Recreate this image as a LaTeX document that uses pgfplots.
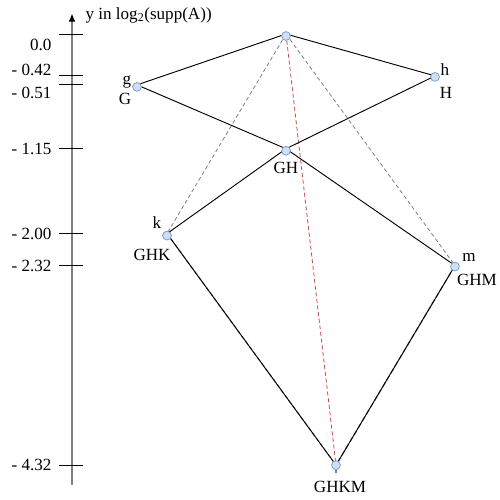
\documentclass[border=0pt]{standalone}
\usepackage{fontspec}
\setmainfont{Liberation Serif}
\usepackage{pgfplots}
\pgfplotsset{compat=1.18}
\usetikzlibrary{arrows.meta}
\definecolor{nodefill}{HTML}{CFE0F6}
\definecolor{nodedraw}{HTML}{7C9ED4}
\definecolor{dgray}{HTML}{808080}
\definecolor{dred}{HTML}{C84A48}
\tikzset{lbl/.style={font=\fontsize{12.8}{15}\selectfont, inner sep=1pt}}
\begin{document}
\begin{tikzpicture}
\begin{axis}[at={(0,0)},anchor=south west, scale only axis, width=375pt, height=375pt,
  xmin=0, xmax=500, ymin=-4.6693, ymax=0.3407, hide axis, clip=false]
% vertical scale
\addplot[draw=dgray, line width=0.8pt, -{Latex[black,length=6pt,width=5pt]}] coordinates {(72,-4.519) (72,0.205)};
\addplot[black, line width=0.7pt] coordinates {(59,0) (83,0)};
\addplot[black, line width=0.7pt] coordinates {(59,-0.42) (83,-0.42)};
\addplot[black, line width=0.7pt] coordinates {(59,-0.51) (83,-0.51)};
\addplot[black, line width=0.7pt] coordinates {(59,-1.15) (83,-1.15)};
\addplot[black, line width=0.7pt] coordinates {(59,-2.00) (83,-2.00)};
\addplot[black, line width=0.7pt] coordinates {(59,-2.32) (83,-2.32)};
\addplot[black, line width=0.7pt] coordinates {(59,-4.32) (83,-4.32)};
\node[lbl,anchor=east] at (axis cs:53,-0.110) {0.0};
\node[lbl,anchor=east] at (axis cs:53,-0.361) {- 0.42};
\node[lbl,anchor=east] at (axis cs:53,-0.591) {- 0.51};
\node[lbl,anchor=east] at (axis cs:53,-1.15) {- 1.15};
\node[lbl,anchor=east] at (axis cs:53,-2.00) {- 2.00};
\node[lbl,anchor=east] at (axis cs:53,-2.32) {- 2.32};
\node[lbl,anchor=east] at (axis cs:53,-4.32) {- 4.32};
\node[lbl,anchor=west] at (axis cs:84,0.19) {y in log\textsubscript{2}(supp(A))};
% dashed edges
\addplot[dgray, line width=0.6pt, dash pattern=on 3pt off 2pt] coordinates {(286,0) (167,-2.00)};
\addplot[dgray, line width=0.6pt, dash pattern=on 3pt off 2pt] coordinates {(286,0) (455,-2.32)};
\addplot[dgray, line width=0.9pt, dash pattern=on 3pt off 2pt] coordinates {(167,-2.00) (336,-4.32)};
\addplot[dgray, line width=1.0pt, dash pattern=on 4pt off 2pt] coordinates {(455,-2.32) (336,-4.32)};
\addplot[dgray, line width=0.8pt] coordinates {(336,-4.32) (336,-4.40)};
\addplot[dred, line width=0.6pt, dash pattern=on 3pt off 2pt] coordinates {(286,0) (336,-4.32)};
% solid edges
\addplot[black, line width=0.7pt] coordinates {(286,0) (137,-0.51)};
\addplot[black, line width=0.7pt] coordinates {(286,0) (435,-0.42)};
\addplot[black, line width=0.7pt] coordinates {(137,-0.51) (286,-1.15)};
\addplot[black, line width=0.7pt] coordinates {(435,-0.42) (286,-1.15)};
\addplot[black, line width=0.7pt] coordinates {(286,-1.15) (167,-2.00)};
\addplot[black, line width=0.7pt] coordinates {(286,-1.15) (455,-2.32)};
\addplot[black, line width=0.7pt] coordinates {(167,-2.00) (336,-4.32)};
\addplot[black, line width=0.7pt] coordinates {(455,-2.32) (336,-4.32)};
% nodes
\addplot[only marks, mark=*, mark size=3.3pt, mark options={fill=nodefill, draw=nodedraw, line width=0.6pt}] coordinates {
 (286,-0.02) (137,-0.53) (435,-0.43) (286,-1.17) (167,-2.02) (455,-2.33) (336,-4.32)};
% labels
\node[lbl] at (axis cs:127,-0.481) {g};
\node[lbl] at (axis cs:125,-0.651) {G};
\node[lbl] at (axis cs:445,-0.361) {h};
\node[lbl] at (axis cs:446,-0.591) {H};
\node[lbl] at (axis cs:286,-1.343) {GH};
\node[lbl] at (axis cs:157,-1.894) {k};
\node[lbl] at (axis cs:152,-2.214) {GHK};
\node[lbl] at (axis cs:469,-2.244) {m};
\node[lbl] at (axis cs:477,-2.465) {GHM};
\node[lbl] at (axis cs:340,-4.539) {GHKM};
\end{axis}
\pgfresetboundingbox
\path[use as bounding box] (0,0) rectangle (375pt,375pt);
\end{tikzpicture}
\end{document}
